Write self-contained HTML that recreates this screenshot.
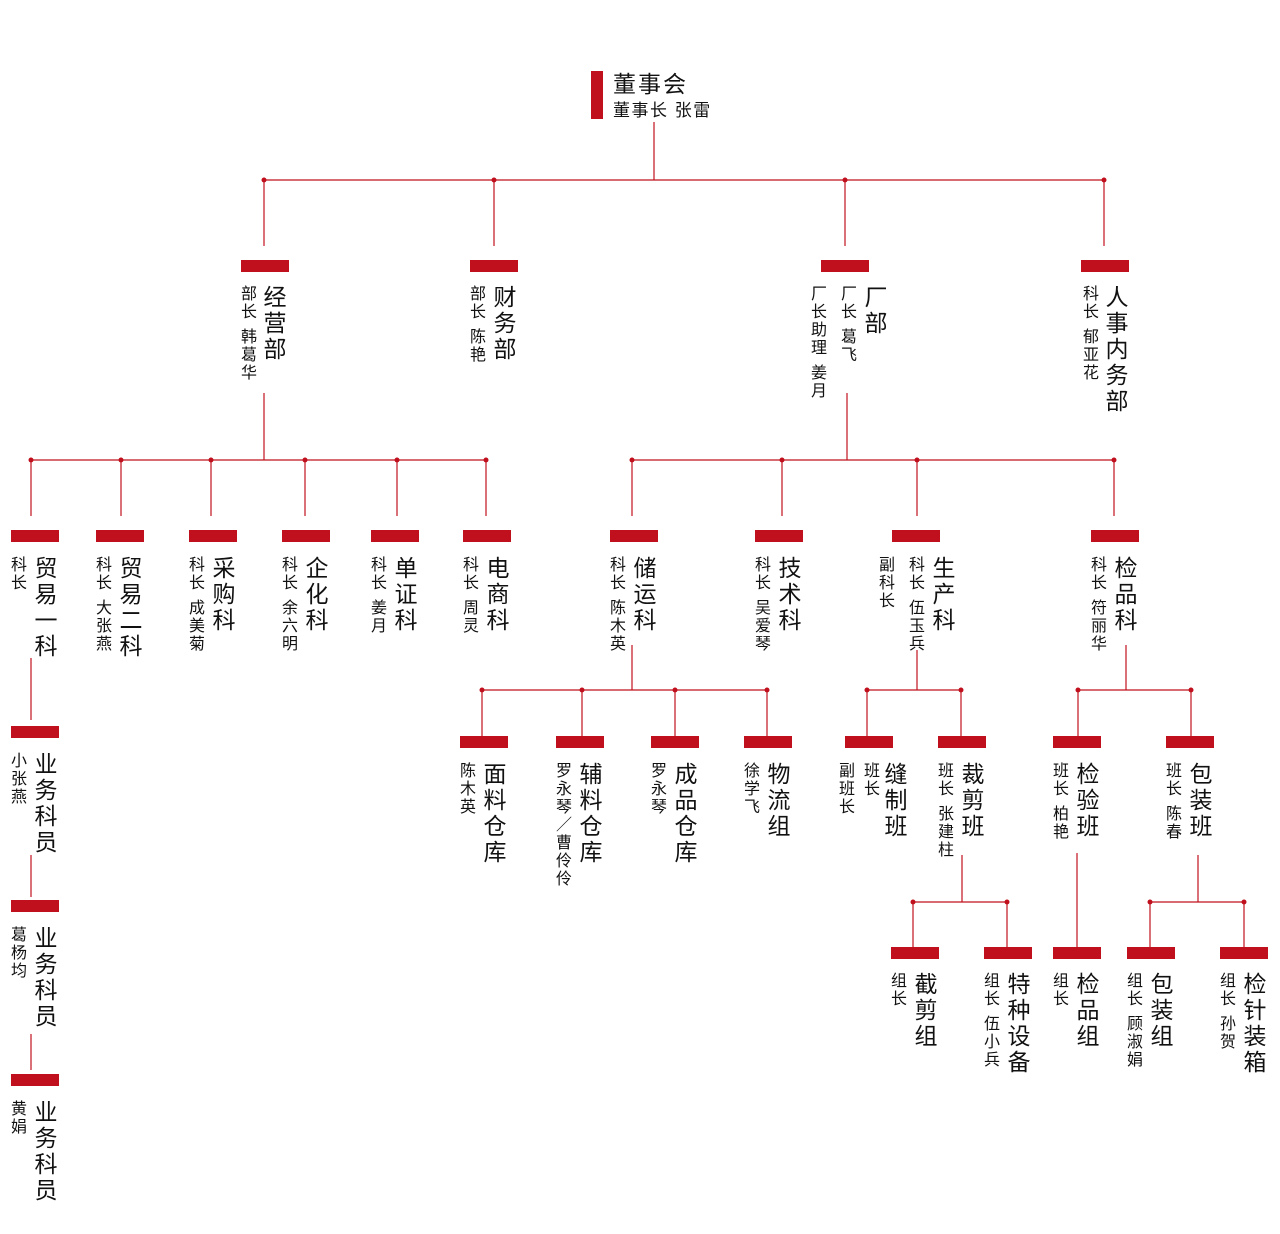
<!DOCTYPE html>
<html><head><meta charset="utf-8"><style>
body{margin:0;background:#fff;}
#w{position:relative;width:1280px;height:1234px;overflow:hidden;font-family:"Liberation Sans","Noto Sans CJK SC",sans-serif;color:#111;}
svg{position:absolute;left:0;top:0;}
.t,.s{position:absolute;writing-mode:vertical-rl;text-orientation:upright;line-height:1;white-space:nowrap;}
.t{font-size:23px;letter-spacing:3px;margin-left:-3px;}
.s{font-size:16px;letter-spacing:2px;margin-left:-2px;}
.g{display:inline-block;height:7px;width:1px;}
</style></head><body><div id="w">
<svg width="1280" height="1234" fill="#c0101e" stroke="#c0101e" stroke-width="1.2">
<rect x="591" y="71" width="12" height="48" stroke="none"/>
<line x1="654" y1="122" x2="654" y2="180"/>
<line x1="264" y1="180" x2="1104" y2="180"/>
<line x1="264" y1="180" x2="264" y2="246"/><line x1="494" y1="180" x2="494" y2="246"/><line x1="845" y1="180" x2="845" y2="246"/><line x1="1104" y1="180" x2="1104" y2="246"/>
<g stroke="none"><circle cx="264" cy="180" r="2.5"/><circle cx="494" cy="180" r="2.5"/><circle cx="845" cy="180" r="2.5"/><circle cx="1104" cy="180" r="2.5"/></g>
<g stroke="none"><rect x="241" y="260" width="48" height="12"/><rect x="470" y="260" width="48" height="12"/><rect x="821" y="260" width="48" height="12"/><rect x="1081" y="260" width="48" height="12"/></g>
<line x1="264" y1="393" x2="264" y2="460"/><line x1="847" y1="393" x2="847" y2="460"/>
<line x1="31" y1="460" x2="486" y2="460"/><line x1="632" y1="460" x2="1114" y2="460"/>
<line x1="31" y1="460" x2="31" y2="516"/><line x1="121" y1="460" x2="121" y2="516"/><line x1="211" y1="460" x2="211" y2="516"/><line x1="305" y1="460" x2="305" y2="516"/><line x1="397" y1="460" x2="397" y2="516"/><line x1="486" y1="460" x2="486" y2="516"/>
<line x1="632" y1="460" x2="632" y2="516"/><line x1="782" y1="460" x2="782" y2="516"/><line x1="917" y1="460" x2="917" y2="516"/><line x1="1114" y1="460" x2="1114" y2="516"/>
<g stroke="none"><circle cx="31" cy="460" r="2.5"/><circle cx="121" cy="460" r="2.5"/><circle cx="211" cy="460" r="2.5"/><circle cx="305" cy="460" r="2.5"/><circle cx="397" cy="460" r="2.5"/><circle cx="486" cy="460" r="2.5"/><circle cx="632" cy="460" r="2.5"/><circle cx="782" cy="460" r="2.5"/><circle cx="917" cy="460" r="2.5"/><circle cx="1114" cy="460" r="2.5"/></g>
<g stroke="none"><rect x="11" y="530" width="48" height="12"/><rect x="96" y="530" width="48" height="12"/><rect x="189" y="530" width="48" height="12"/><rect x="282" y="530" width="48" height="12"/><rect x="371" y="530" width="48" height="12"/><rect x="463" y="530" width="48" height="12"/><rect x="610" y="530" width="48" height="12"/><rect x="755" y="530" width="48" height="12"/><rect x="892" y="530" width="48" height="12"/><rect x="1091" y="530" width="48" height="12"/></g>
<line x1="31" y1="658" x2="31" y2="720"/><line x1="31" y1="855" x2="31" y2="897"/><line x1="31" y1="1034" x2="31" y2="1070"/>
<g stroke="none"><rect x="11" y="726" width="48" height="12"/><rect x="11" y="900" width="48" height="12"/><rect x="11" y="1074" width="48" height="12"/></g>
<line x1="632" y1="645" x2="632" y2="690"/><line x1="482" y1="690" x2="767" y2="690"/>
<line x1="482" y1="690" x2="482" y2="736"/><line x1="582" y1="690" x2="582" y2="736"/><line x1="675" y1="690" x2="675" y2="736"/><line x1="767" y1="690" x2="767" y2="736"/>
<line x1="917" y1="650" x2="917" y2="690"/><line x1="867" y1="690" x2="961" y2="690"/><line x1="867" y1="690" x2="867" y2="736"/><line x1="961" y1="690" x2="961" y2="736"/>
<line x1="1126" y1="645" x2="1126" y2="690"/><line x1="1078" y1="690" x2="1191" y2="690"/><line x1="1078" y1="690" x2="1078" y2="736"/><line x1="1191" y1="690" x2="1191" y2="736"/>
<g stroke="none"><circle cx="482" cy="690" r="2.5"/><circle cx="582" cy="690" r="2.5"/><circle cx="675" cy="690" r="2.5"/><circle cx="767" cy="690" r="2.5"/><circle cx="867" cy="690" r="2.5"/><circle cx="961" cy="690" r="2.5"/><circle cx="1078" cy="690" r="2.5"/><circle cx="1191" cy="690" r="2.5"/></g>
<g stroke="none"><rect x="460" y="736" width="48" height="12"/><rect x="556" y="736" width="48" height="12"/><rect x="651" y="736" width="48" height="12"/><rect x="744" y="736" width="48" height="12"/><rect x="845" y="736" width="48" height="12"/><rect x="938" y="736" width="48" height="12"/><rect x="1053" y="736" width="48" height="12"/><rect x="1166" y="736" width="48" height="12"/></g>
<line x1="962" y1="855" x2="962" y2="902"/><line x1="913" y1="902" x2="1007" y2="902"/><line x1="913" y1="902" x2="913" y2="947"/><line x1="1007" y1="902" x2="1007" y2="947"/>
<line x1="1077" y1="853" x2="1077" y2="947"/>
<line x1="1198" y1="855" x2="1198" y2="902"/><line x1="1150" y1="902" x2="1244" y2="902"/><line x1="1150" y1="902" x2="1150" y2="947"/><line x1="1244" y1="902" x2="1244" y2="947"/>
<g stroke="none"><circle cx="913" cy="902" r="2.5"/><circle cx="1007" cy="902" r="2.5"/><circle cx="1150" cy="902" r="2.5"/><circle cx="1244" cy="902" r="2.5"/></g>
<g stroke="none"><rect x="891" y="947" width="48" height="12"/><rect x="984" y="947" width="48" height="12"/><rect x="1053" y="947" width="48" height="12"/><rect x="1127" y="947" width="48" height="12"/><rect x="1220" y="947" width="48" height="12"/></g>
</svg>

<div style="position:absolute;left:613px;top:71px;font-size:23px;line-height:26px;letter-spacing:2px;">董事会</div>
<div style="position:absolute;left:613px;top:101px;font-size:17px;line-height:20px;letter-spacing:1.5px;">董事长 张雷</div>

<div class="t" style="left:264px;top:285px">经营部</div><div class="s" style="left:240px;top:285px">部长<span class="g"></span>韩葛华</div>
<div class="t" style="left:494px;top:285px">财务部</div><div class="s" style="left:469px;top:285px">部长<span class="g"></span>陈艳</div>
<div class="t" style="left:865px;top:285px">厂部</div><div class="s" style="left:840px;top:285px">厂长<span class="g"></span>葛飞</div><div class="s" style="left:810px;top:285px">厂长助理<span class="g"></span>姜月</div>
<div class="t" style="left:1106px;top:285px">人事内务部</div><div class="s" style="left:1082px;top:285px">科长<span class="g"></span>郁亚花</div>

<div class="t" style="left:35px;top:556px">贸易一科</div><div class="s" style="left:10px;top:556px">科长</div>
<div class="t" style="left:120px;top:556px">贸易二科</div><div class="s" style="left:95px;top:556px">科长<span class="g"></span>大张燕</div>
<div class="t" style="left:213px;top:556px">采购科</div><div class="s" style="left:188px;top:556px">科长<span class="g"></span>成美菊</div>
<div class="t" style="left:306px;top:556px">企化科</div><div class="s" style="left:281px;top:556px">科长<span class="g"></span>余六明</div>
<div class="t" style="left:395px;top:556px">单证科</div><div class="s" style="left:370px;top:556px">科长<span class="g"></span>姜月</div>
<div class="t" style="left:487px;top:556px">电商科</div><div class="s" style="left:462px;top:556px">科长<span class="g"></span>周灵</div>
<div class="t" style="left:634px;top:556px">储运科</div><div class="s" style="left:609px;top:556px">科长<span class="g"></span>陈木英</div>
<div class="t" style="left:779px;top:556px">技术科</div><div class="s" style="left:754px;top:556px">科长<span class="g"></span>吴爱琴</div>
<div class="t" style="left:933px;top:556px">生产科</div><div class="s" style="left:908px;top:556px">科长<span class="g"></span>伍玉兵</div><div class="s" style="left:878px;top:556px">副科长</div>
<div class="t" style="left:1115px;top:556px">检品科</div><div class="s" style="left:1090px;top:556px">科长<span class="g"></span>符丽华</div>

<div class="t" style="left:35px;top:752px">业务科员</div><div class="s" style="left:10px;top:752px">小张燕</div>
<div class="t" style="left:35px;top:926px">业务科员</div><div class="s" style="left:10px;top:926px">葛杨均</div>
<div class="t" style="left:35px;top:1100px">业务科员</div><div class="s" style="left:10px;top:1100px">黄娟</div>

<div class="t" style="left:484px;top:762px">面料仓库</div><div class="s" style="left:459px;top:762px">陈木英</div>
<div class="t" style="left:580px;top:762px">辅料仓库</div><div class="s" style="left:555px;top:762px">罗永琴／曹伶伶</div>
<div class="t" style="left:675px;top:762px">成品仓库</div><div class="s" style="left:650px;top:762px">罗永琴</div>
<div class="t" style="left:768px;top:762px">物流组</div><div class="s" style="left:743px;top:762px">徐学飞</div>
<div class="t" style="left:885px;top:762px">缝制班</div><div class="s" style="left:863px;top:762px">班长</div><div class="s" style="left:838px;top:762px">副班长</div>
<div class="t" style="left:962px;top:762px">裁剪班</div><div class="s" style="left:937px;top:762px">班长<span class="g"></span>张建柱</div>
<div class="t" style="left:1077px;top:762px">检验班</div><div class="s" style="left:1052px;top:762px">班长<span class="g"></span>柏艳</div>
<div class="t" style="left:1190px;top:762px">包装班</div><div class="s" style="left:1165px;top:762px">班长<span class="g"></span>陈春</div>

<div class="t" style="left:915px;top:972px">截剪组</div><div class="s" style="left:890px;top:972px">组长</div>
<div class="t" style="left:1008px;top:972px">特种设备</div><div class="s" style="left:983px;top:972px">组长<span class="g"></span>伍小兵</div>
<div class="t" style="left:1077px;top:972px">检品组</div><div class="s" style="left:1052px;top:972px">组长</div>
<div class="t" style="left:1151px;top:972px">包装组</div><div class="s" style="left:1126px;top:972px">组长<span class="g"></span>顾淑娟</div>
<div class="t" style="left:1244px;top:972px">检针装箱</div><div class="s" style="left:1219px;top:972px">组长<span class="g"></span>孙贺</div>
</div></body></html>
